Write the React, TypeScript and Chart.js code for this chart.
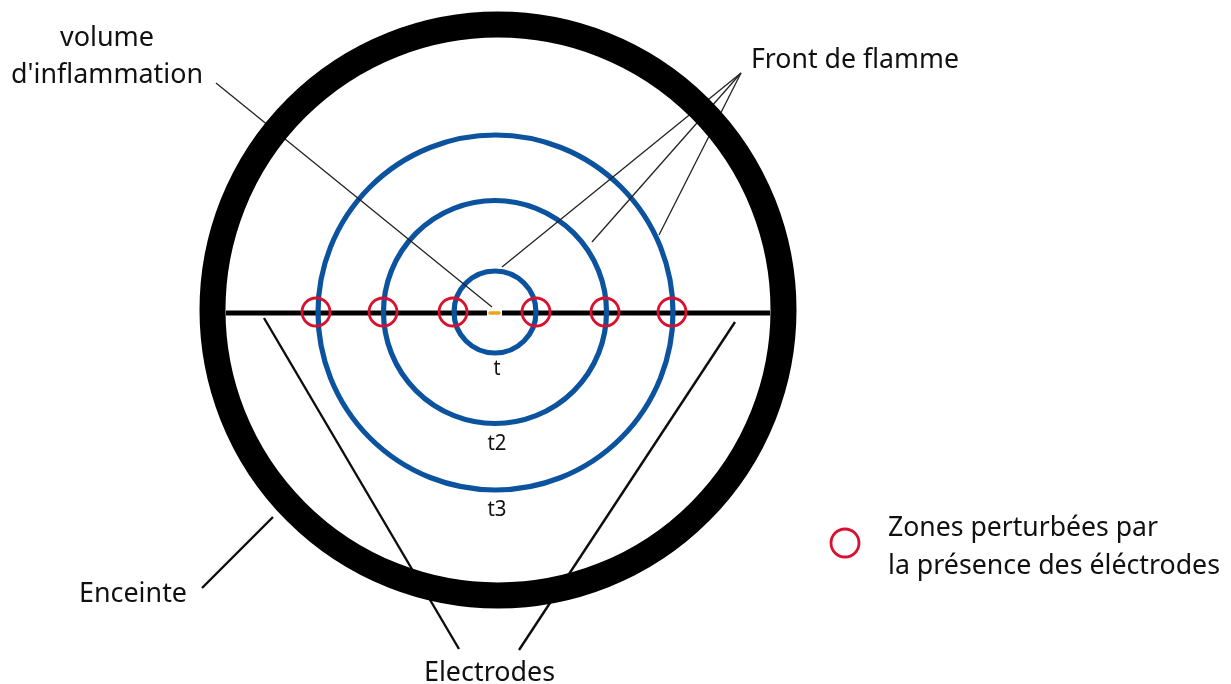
import React, { useEffect, useRef } from "react";
import { Chart, registerables } from "chart.js";

Chart.register(...registerables);

const WIDTH = 1231;
const HEIGHT = 684;

// Rings: centre and radius (same unit as the axes)
const vesselX = [498];
const vesselY = [310];
const vesselR = [285.5];

const flameX = [495, 495, 495.5];
const flameY = [312, 312, 312.5];
const flameR = [41, 111.5, 177.5];

const zoneX = [316, 383, 453, 536, 605, 672, 845];
const zoneY = [312, 312, 312, 312, 312, 312, 543];
const zoneR = 14;

// Segments: [x1, y1, x2, y2]
const electrodeBars = [
  [226, 313, 487, 313],
  [502, 313, 770, 313],
];
const sparkSegment = [490, 313, 499, 313];
const thinLeaders = [
  [216, 83, 492, 307],
  [741, 73, 502, 267],
  [741, 73, 592, 242],
  [741, 73, 659, 235],
];
const thickLeaders = [
  [264, 318, 459, 649],
  [735, 322, 519, 650],
  [273, 517, 202, 588],
];

// Labels: text, x, baseline y, anchor, font size, fitted width
const labelTexts = [
  "volume", "d'inflammation", "Front de flamme", "t", "t2", "t3",
  "Zones perturbées par", "la présence des éléctrodes", "Enceinte", "Electrodes",
];
const labelX = [107, 107, 855, 497, 497, 497, 888, 888, 79, 424];
const labelY = [46, 83, 68, 375, 450, 516, 536, 574, 602, 681];
const labelAlign = ["center", "center", "center", "center", "center", "center", "left", "left", "left", "left"];
const labelSize = [27, 27, 27, 21, 21, 21, 27, 27, 27, 27];
const labelWidth = [96, 192, 208, 7, 19, 19, 270, 332, 108, 131];

const segment = (s: number[]) => [
  { x: s[0], y: s[1] },
  { x: s[2], y: s[3] },
];

const lineSet = (s: number[], color: string, width: number, cap = "butt") => ({
  data: segment(s),
  showLine: true,
  borderColor: color,
  borderWidth: width,
  borderCapStyle: cap,
  pointRadius: 0,
  pointHoverRadius: 0,
});

const ringSet = (xs: number[], ys: number[], radii: number[] | number, color: string, width: number) => ({
  data: xs.map((x, i) => ({ x, y: ys[i] })),
  showLine: false,
  pointStyle: "circle",
  pointRadius: radii,
  pointHoverRadius: radii,
  pointBackgroundColor: "transparent",
  pointBorderColor: color,
  pointBorderWidth: width,
  pointHoverBorderWidth: width,
});

const textPlugin = {
  id: "diagramLabels",
  afterDatasetsDraw(chart: any) {
    const { ctx, scales } = chart;
    ctx.save();
    ctx.fillStyle = "#111111";
    ctx.textBaseline = "alphabetic";
    labelTexts.forEach((text, i) => {
      ctx.font = `${labelSize[i]}px "Noto Sans"`;
      ctx.textAlign = labelAlign[i];
      ctx.fillText(text, scales.x.getPixelForValue(labelX[i]), scales.y.getPixelForValue(labelY[i]), labelWidth[i]);
    });
    ctx.restore();
  },
};

export default function App() {
  const ref = useRef<HTMLCanvasElement>(null);

  useEffect(() => {
    const chart = new Chart(ref.current as HTMLCanvasElement, {
      type: "scatter",
      data: {
        datasets: [
          // first dataset is painted last
          ringSet(zoneX, zoneY, zoneR, "#d8112f", 2.8),
          ringSet(vesselX, vesselY, vesselR, "#000000", 26),
          ...thickLeaders.map((s) => lineSet(s, "#0d0d0d", 2.4)),
          ...thinLeaders.map((s) => lineSet(s, "#222222", 1.3)),
          ringSet(flameX, flameY, flameR, "#0b539f", 5.2),
          ...electrodeBars.map((s) => lineSet(s, "#000000", 5)),
          lineSet(sparkSegment, "#f0a31a", 3.6, "round"),
        ] as any,
      },
      options: {
        animation: false,
        responsive: false,
        events: [],
        layout: { padding: 0, autoPadding: false },
        plugins: { legend: { display: false }, tooltip: { enabled: false } },
        scales: {
          x: { type: "linear", display: false, min: 0, max: WIDTH },
          y: { type: "linear", display: false, min: 0, max: HEIGHT, reverse: true },
        },
      },
      plugins: [textPlugin],
    } as any);
    return () => chart.destroy();
  }, []);

  return (
    <div style={{ position: "absolute", left: 0, top: 0, width: WIDTH, height: HEIGHT, background: "#ffffff" }}>
      <canvas ref={ref} width={WIDTH} height={HEIGHT} style={{ display: "block" }} />
    </div>
  );
}
